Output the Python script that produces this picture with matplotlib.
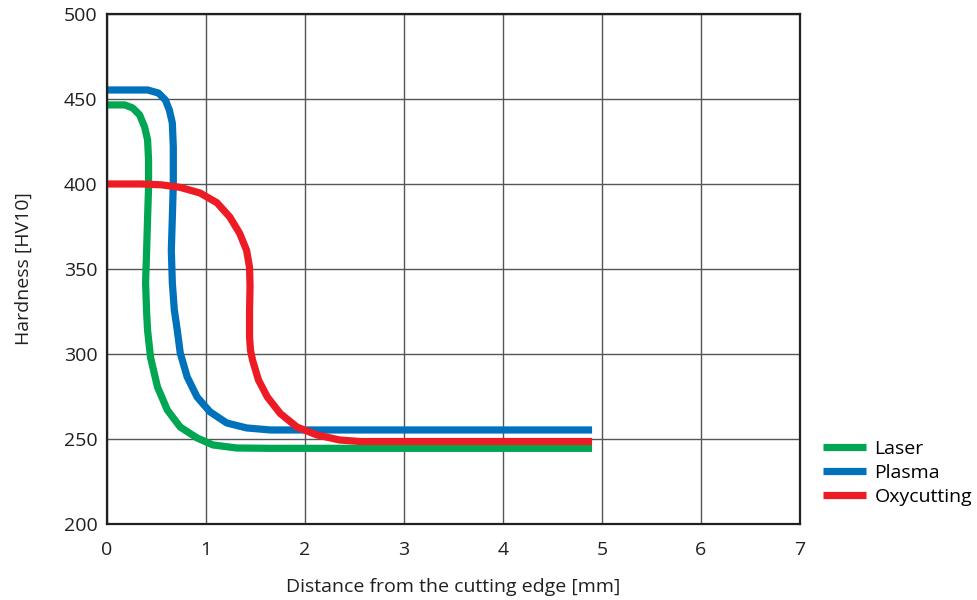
import matplotlib.pyplot as plt

# Valori (distanza [mm], durezza [HV10])
laser_x = [0.0, 0.18, 0.26, 0.33, 0.38, 0.41, 0.42, 0.42, 0.41, 0.40, 0.39, 0.40, 0.41, 0.44, 0.51,
           0.61, 0.74, 0.91, 1.07, 1.31, 1.65, 4.9]
laser_y = [446.5, 446.5, 444.7, 440.6, 433.5, 426, 414, 398, 380, 360, 342, 325, 314, 298, 280.6,
           267, 257, 250.6, 246.5, 244.7, 244.5, 244.5]

plasma_x = [0.0, 0.41, 0.52, 0.59, 0.63, 0.66, 0.67, 0.67, 0.66, 0.65, 0.66, 0.68, 0.71, 0.74,
            0.81, 0.91, 1.04, 1.21, 1.41, 1.65, 4.9]
plasma_y = [455.3, 455.3, 453.5, 449.4, 443.5, 435.9, 421.8, 400, 380, 361, 342, 326, 314, 300.6,
            286.5, 274.7, 266, 259.4, 256.5, 255.3, 255.3]

oxy_x = [0.0, 0.35, 0.55, 0.74, 0.94, 1.11, 1.24, 1.34, 1.41, 1.44, 1.445, 1.44, 1.44, 1.45, 1.47,
         1.53, 1.62, 1.75, 1.92, 2.12, 2.35, 2.56, 4.9]
oxy_y = [400, 400, 399.5, 398, 394.7, 389, 380.6, 371, 361, 351, 340, 325, 310, 302, 296.5,
         284.7, 274.7, 265, 257, 252.4, 249.4, 248.5, 248.5]

serie = [
    ("Laser", laser_x, laser_y, "#00A651"),
    ("Plasma", plasma_x, plasma_y, "#0072BC"),
    ("Oxycutting", oxy_x, oxy_y, "#ED1C24"),
]

plt.rcParams['font.family'] = ['Open Sans', 'DejaVu Sans']

fig = plt.figure(figsize=(9.77, 6), dpi=100)
ax = fig.add_axes([0.1095, 0.1267, 0.7093, 0.85])

for nome, x, y, colore in serie:
    ax.plot(x, y, color=colore, lw=5.2, label=nome, solid_joinstyle='round', solid_capstyle='butt')

ax.set_xlim(0, 7)
ax.set_ylim(200, 500)
ax.set_xticks(range(8))
ax.set_yticks(range(200, 501, 50))
ax.grid(True, color='#555555', lw=1)
ax.set_axisbelow(True)
ax.tick_params(axis='x', pad=12)
ax.tick_params(length=0, labelsize=14, colors='#231F20')
ax.tick_params(axis='y', pad=7)
for s in ax.spines.values():
    s.set_linewidth(1.6)
    s.set_color('#231F20')

ax.set_xlabel('Distance from the cutting edge [mm]', fontsize=14, labelpad=14, color='#231F20')
ax.set_ylabel('Hardness [HV10]', fontsize=14, labelpad=22, color='#231F20')

ax.legend(loc='upper left', bbox_to_anchor=(1.022, 0.18), frameon=False, fontsize=14,
          handlelength=2.2, handletextpad=0.45, labelspacing=0.3, borderaxespad=0)

fig.savefig('out.png', dpi=100)
